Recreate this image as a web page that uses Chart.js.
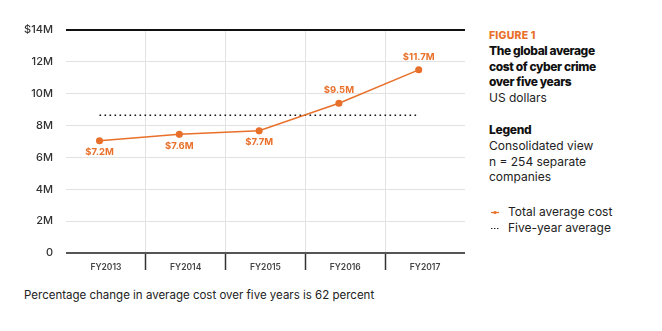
<!DOCTYPE html>
<html>
<head>
<meta charset="utf-8">
<script src="https://cdn.jsdelivr.net/npm/chart.js@4.4.1/dist/chart.umd.min.js"></script>
<style>
  html, body { margin: 0; padding: 0; background: #fff; }
  body { width: 662px; height: 331px; position: relative; overflow: hidden; font-family: Inter, "Open Sans", sans-serif; }
  #wrap { position: absolute; left: 0; top: 0; width: 480px; height: 280px; }
  #side { position: absolute; left: 489px; top: 29px; width: 170px; color: #222; font-size: 12px; line-height: 15.6px; }
  .fig { color: #E8702A; font-weight: 800; font-size: 10.5px; letter-spacing: 0.2px; line-height: 14px; }
  .ttl { font-weight: 800; letter-spacing: -0.4px; color: #111; }
  .lg { font-weight: 800; letter-spacing: -0.3px; color: #111; }
  .row { position: relative; padding-left: 19px; }
  .mk { position: absolute; left: 1px; top: 0; }
  #cap { position: absolute; left: 24px; top: 288px; font-size: 11.5px; color: #222; white-space: nowrap; }
</style>
</head>
<body>
<div id="wrap"><canvas id="c" width="480" height="280"></canvas></div>
<div id="side">
  <div class="fig">FIGURE 1</div>
  <div class="ttl">The global average<br>cost of cyber crime<br>over five years</div>
  <div>US dollars</div>
  <div style="height:17px"></div>
  <div class="lg">Legend</div>
  <div>Consolidated view<br>n = 254 separate<br>companies</div>
  <div style="height:19px"></div>
  <div class="row" style="line-height:16px"><span class="mk"><svg width="10" height="16"><line x1="1" y1="8.5" x2="9" y2="8.5" stroke="#E8702A" stroke-width="1.3"/><circle cx="5" cy="8.5" r="1.6" fill="#E8702A"/></svg></span>Total average cost</div>
  <div class="row" style="line-height:16px"><span class="mk"><svg width="10" height="16"><line x1="1" y1="8.5" x2="10" y2="8.5" stroke="#222" stroke-width="1.2" stroke-dasharray="1.4,1.6"/></svg></span>Five-year average</div>
</div>
<div id="cap">Percentage change in average cost over five years is 62 percent</div>
<script>
const categories = ['FY2013', 'FY2014', 'FY2015', 'FY2016', 'FY2017'];
const totalCost = [7.05, 7.45, 7.67, 9.4, 11.5];
const costLabels = ['$7.2M', '$7.6M', '$7.7M', '$9.5M', '$11.7M'];
const fiveYearAverage = [8.65, 8.65, 8.65, 8.65, 8.65];
const yTickLabels = ['0', '2M', '4M', '6M', '8M', '10M', '12M', '$14M'];

const ORANGE = '#E8702A';
const labelSide = ['below', 'below', 'below', 'above', 'above'];

const labelPlugin = {
  id: 'pointLabels',
  afterDatasetsDraw(chart) {
    const meta = chart.getDatasetMeta(0);
    const ctx = chart.ctx;
    ctx.save();
    ctx.font = '700 9.5px Inter, sans-serif';
    ctx.fillStyle = ORANGE;
    ctx.textAlign = 'center';
    ctx.textBaseline = 'middle';
    meta.data.forEach((pt, i) => {
      const dy = labelSide[i] === 'below' ? 11.5 : -13;
      ctx.fillText(costLabels[i], pt.x, pt.y + dy);
    });
    ctx.restore();
  }
};

new Chart(document.getElementById('c'), {
  type: 'line',
  data: {
    labels: categories,
    datasets: [
      {
        label: 'Total average cost',
        data: totalCost.map((v, i) => ({ x: i, y: v })),
        xAxisID: 'x2',
        borderColor: ORANGE,
        backgroundColor: ORANGE,
        borderWidth: 1.5,
        pointRadius: 2.8,
        pointHoverRadius: 2.8,
        tension: 0
      },
      {
        label: 'Five-year average',
        data: fiveYearAverage.map((v, i) => ({ x: i, y: v })),
        xAxisID: 'x2',
        borderColor: '#111',
        borderWidth: 1.5,
        borderDash: [1.6, 3.4],
        pointRadius: 0,
        tension: 0
      }
    ]
  },
  options: {
    responsive: false,
    animation: false,
    events: [],
    layout: { padding: { left: 0, right: 15, top: 30, bottom: 0 } },
    plugins: { legend: { display: false }, tooltip: { enabled: false } },
    scales: {
      x: {
        type: 'category',
        offset: true,
        border: { display: false },
        grid: {
          offset: true,
          drawOnChartArea: true,
          color: (c) => (c.index === undefined || c.index === 0) ? 'rgba(0,0,0,0)' : '#e2e2e2',
          tickColor: (c) => (c.index === undefined || c.index === 0) ? 'rgba(0,0,0,0)' : '#333',
          tickWidth: 1.5,
          tickLength: 17,
          lineWidth: 1
        },
        ticks: {
          padding: -8,
          color: '#444',
          font: { family: 'Inter, sans-serif', size: 8.5, weight: '600' }
        },
        afterFit(scale) { scale.height = 27; }
      },
      x2: {
        type: 'linear',
        display: false,
        min: -0.42,
        max: 4.58
      },
      y: {
        min: 0,
        max: 14,
        border: { display: false },
        grid: {
          drawTicks: false,
          color: (c) => c.tick && c.tick.value === 14 ? '#111' : (c.tick && c.tick.value === 0 ? '#555' : '#e2e2e2'),
          lineWidth: (c) => c.tick && (c.tick.value === 14 || c.tick.value === 0) ? 2 : 1
        },
        ticks: {
          stepSize: 2,
          padding: 13,
          color: '#333',
          font: { family: 'Inter, sans-serif', size: 11, weight: '500' },
          callback: (v, i) => yTickLabels[i]
        },
        afterFit(scale) { scale.width = 66; }
      }
    }
  },
  plugins: [labelPlugin]
});
</script>
</body>
</html>
